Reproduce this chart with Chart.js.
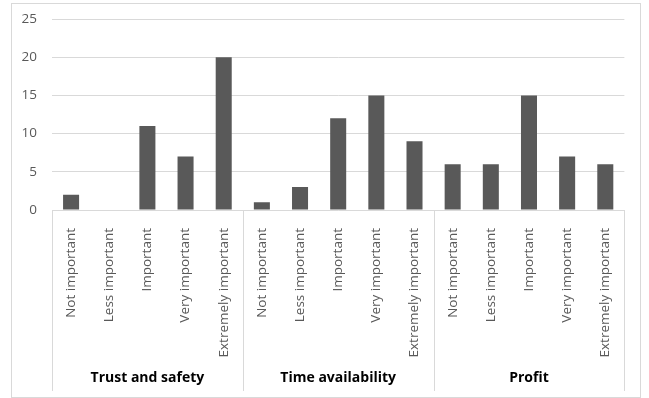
<!DOCTYPE html>
<html>
<head>
<meta charset="utf-8">
<script src="https://cdn.jsdelivr.net/npm/chart.js@4.4.0/dist/chart.umd.min.js"></script>
<style>
  body { margin: 0; background: #fff; }
  #wrap {
    position: absolute; left: 11px; top: 3px;
    width: 628px; height: 393px;
    border: 1px solid #d9d9d9;
  }
</style>
</head>
<body>
<div id="wrap"><canvas id="chart" width="628" height="393"></canvas></div>
<script>
const groups = ['Trust and safety', 'Time availability', 'Profit'];
const levels = ['Not important', 'Less important', 'Important', 'Very important', 'Extremely important'];
const trustSafety = [2, 0, 11, 7, 20];
const timeAvailability = [1, 3, 12, 15, 9];
const profit = [6, 6, 15, 7, 6];
const yTicks = [0, 5, 10, 15, 20, 25];

const labels = groups.flatMap(() => levels);
const values = [...trustSafety, ...timeAvailability, ...profit];

// vertical separators between the groups, under the plot
const groupLines = {
  id: 'groupLines',
  afterDraw(chart) {
    const x = chart.scales.x;
    const g = chart.scales.group;
    const ctx = chart.ctx;
    ctx.save();
    ctx.strokeStyle = '#d9d9d9';
    ctx.lineWidth = 1;
    for (let i = 0; i <= labels.length; i += levels.length) {
      const px = Math.round(x.getPixelForValue(i - 0.5)) + 0.5;
      ctx.beginPath();
      ctx.moveTo(px, x.top);
      ctx.lineTo(px, g.bottom);
      ctx.stroke();
    }
    ctx.restore();
  }
};

new Chart(document.getElementById('chart').getContext('2d'), {
  type: 'bar',
  data: {
    labels: labels,
    datasets: [{
      data: values,
      backgroundColor: '#595959',
      borderWidth: 0,
      categoryPercentage: 1,
      barPercentage: 0.42
    }]
  },
  options: {
    responsive: false,
    animation: false,
    layout: { padding: { top: 15, right: 15, bottom: 6, left: 0 } },
    plugins: { legend: { display: false }, tooltip: { enabled: false } },
    scales: {
      y: {
        min: 0,
        max: 25,
        afterBuildTicks: s => { s.ticks = yTicks.map(v => ({ value: v })); },
        afterFit: s => { s.width = 40; s.paddingTop = 8; s.paddingBottom = 8; },
        border: { display: false },
        grid: { color: '#d9d9d9', drawTicks: false },
        ticks: { color: '#595959', padding: 15, font: { family: 'Open Sans', size: 13.5 } }
      },
      x: {
        position: 'bottom',
        afterFit: s => { s.height = 157; },
        border: { display: false },
        grid: { display: false, drawTicks: false },
        ticks: {
          minRotation: 90,
          maxRotation: 90,
          autoSkip: false,
          padding: 18,
          color: '#595959',
          font: { family: 'Open Sans', size: 13.5 }
        }
      },
      group: {
        type: 'category',
        position: 'bottom',
        labels: groups,
        offset: true,
        afterFit: s => { s.height = 24; },
        border: { display: false },
        grid: { display: false, drawTicks: false },
        ticks: { padding: 3, color: '#000', font: { family: 'Open Sans', size: 14, weight: 'bold' } }
      }
    }
  },
  plugins: [groupLines]
});
</script>
</body>
</html>
